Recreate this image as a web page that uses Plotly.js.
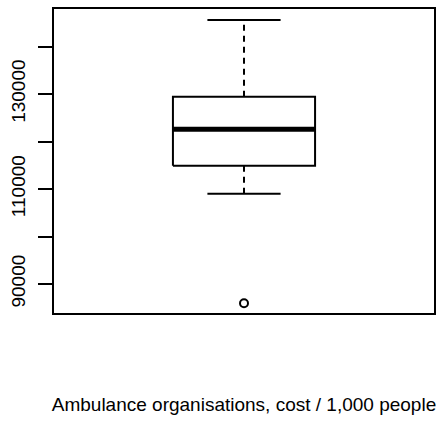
<!DOCTYPE html>
<html>
<head>
<meta charset="utf-8">
<script src="https://cdn.plot.ly/plotly-3.0.1.min.js"></script>
<style>html,body{margin:0;padding:0;background:#fff;}#chart{width:436px;height:421px;}</style>
</head>
<body>
<div id="chart"></div>
<script>
// Data
var statNames = ["lowerWhisker", "q1", "median", "q3", "upperWhisker"];
var statValues = [109000, 114900, 122600, 129400, 145600];
var outliers = [85950];
var tickValues = [90000, 100000, 110000, 120000, 130000, 140000];
var tickLabels = ["90000", "", "110000", "", "130000", ""];
var xTitle = "Ambulance organisations, cost / 1,000 people";

var lw = statValues[0], q1 = statValues[1], med = statValues[2], q3 = statValues[3], uw = statValues[4];
var cx = 1, bh = 0.202, ch = 0.104; // box centre / half widths (style)
var black = "#000";

var traces = [
  {x: [cx - bh, cx + bh, cx + bh, cx - bh, cx - bh], y: [q1, q1, q3, q3, q1],
   mode: "lines", line: {color: black, width: 2}, fill: "toself", fillcolor: "#fff", hoverinfo: "skip"},
  {x: [cx - bh, cx + bh], y: [med, med], mode: "lines", line: {color: black, width: 5}, hoverinfo: "skip"},
  {x: [cx, cx], y: [q3, uw], mode: "lines", line: {color: black, width: 2, dash: "6px,5px"}, hoverinfo: "skip"},
  {x: [cx, cx], y: [q1, lw], mode: "lines", line: {color: black, width: 2, dash: "6px,5px"}, hoverinfo: "skip"},
  {x: [cx - ch, cx + ch], y: [uw, uw], mode: "lines", line: {color: black, width: 2}, hoverinfo: "skip"},
  {x: [cx - ch, cx + ch], y: [lw, lw], mode: "lines", line: {color: black, width: 2}, hoverinfo: "skip"},
  {x: outliers.map(function(){return cx;}), y: outliers, mode: "markers",
   marker: {symbol: "circle-open", size: 8, color: black, line: {width: 2, color: black}}}
];

var layout = {
  width: 436, height: 421,
  margin: {l: 54, r: 2, t: 9, b: 108},
  paper_bgcolor: "#fff", plot_bgcolor: "#fff",
  showlegend: false,
  font: {family: "Liberation Sans, Arial, sans-serif", size: 19, color: "#000"},
  xaxis: {
    range: [0.46, 1.54], showgrid: false, zeroline: false,
    showticklabels: false, ticks: "",
    showline: true, mirror: true, linecolor: black, linewidth: 2,
    title: {text: xTitle, standoff: 84, font: {size: 19, color: "#000"}}
  },
  yaxis: {
    range: [83895, 147895], showgrid: false, zeroline: false,
    tickmode: "array", tickvals: tickValues, ticktext: tickLabels,
    ticks: "outside", ticklen: 14, tickwidth: 2, tickcolor: black,
    tickangle: -90, ticklabelstandoff: 5,
    tickfont: {size: 19, color: "#000"},
    showline: true, mirror: true, linecolor: black, linewidth: 2
  }
};

Plotly.newPlot("chart", traces, layout, {displayModeBar: false, staticPlot: true});
</script>
</body>
</html>
